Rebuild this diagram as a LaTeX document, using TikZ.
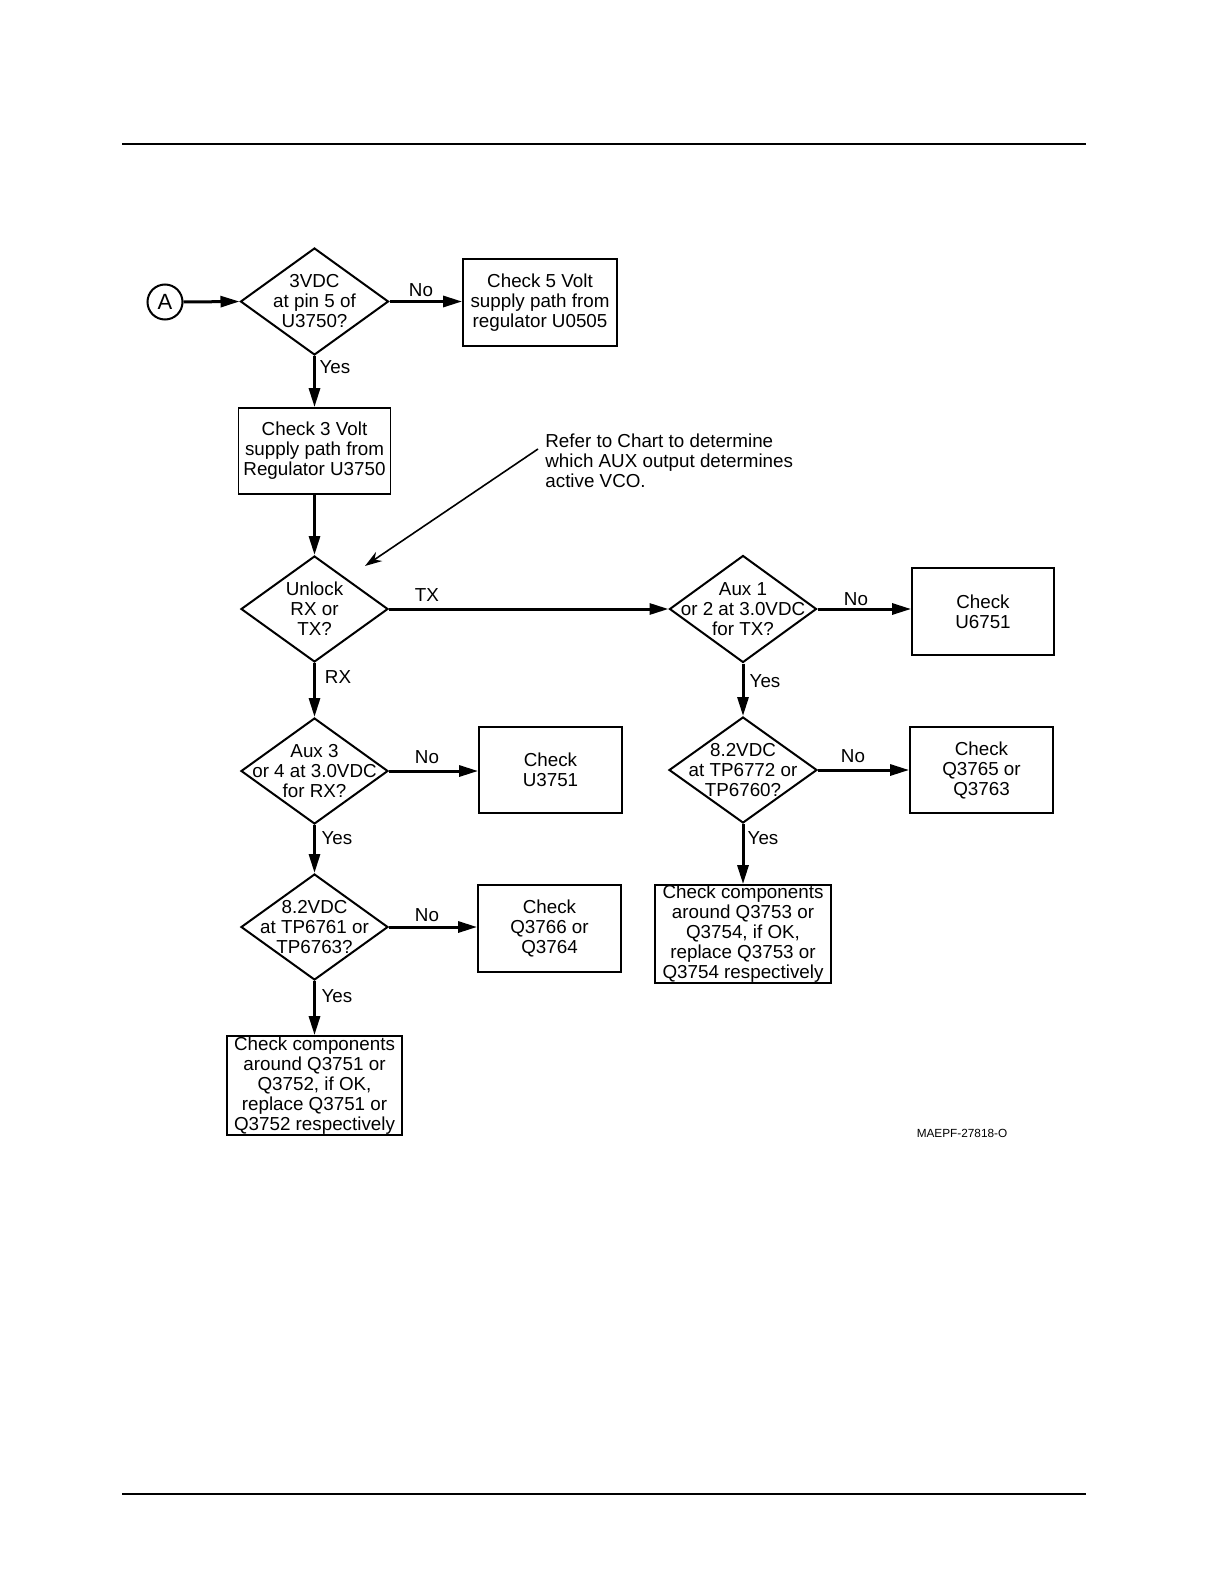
\documentclass[tikz,border=0pt]{standalone}
\usepackage{fontspec}
\setmainfont{Liberation Sans}
\usetikzlibrary{shapes.geometric,arrows.meta}
\begin{document}
\begin{tikzpicture}[x=0.5pt,y=-0.5pt,
  every node/.style={font=\fontsize{9.4pt}{10pt}\selectfont},
  dia/.style={draw,diamond,line width=1pt,inner sep=0pt,minimum width=73.5pt,minimum height=53.5pt},
  dtxt/.style={align=center,inner sep=0pt},
  box/.style={draw,rectangle,line width=0.9pt,align=center,inner sep=0pt,minimum width=71.5pt,minimum height=43.5pt},
  lab/.style={inner sep=0pt},
  arr/.style={line width=1.5pt,-{Triangle[length=9.5pt,width=5.5pt]}},
  narr/.style={line width=0.8pt,-{Stealth[length=8.5pt,width=5.5pt]}},
  rule/.style={line width=1pt}]
\useasboundingbox (0,0) rectangle (1224,1584);
% page rules
\coordinate (r1a) at (122,143.7);
\coordinate (r1b) at (1086,143.7);
\coordinate (r2a) at (122,1493.7);
\coordinate (r2b) at (1086,1493.7);
\draw[rule] (r1a) -- (r1b);
\draw[rule] (r2a) -- (r2b);
% nodes
\node[draw,circle,line width=1pt,minimum size=17.5pt,inner sep=0pt,font=\fontsize{11pt}{12pt}\selectfont] (A) at (165,302) {A};
\node[dia,minimum width=74pt] (d1) at (314.5,301.5) {};
\node[dtxt] (d1t) at (d1) {3VDC\\at pin 5 of\\U3750?};
\node[box,minimum width=77pt] (b1) at (540,302.5) {Check 5 Volt\\supply path from\\regulator U0505};
\node[box,minimum width=76pt,minimum height=43pt] (b2) at (314.5,451) {Check 3 Volt\\supply path from\\Regulator U3750};
\node[dia,minimum height=53pt] (d2) at (314.5,609) {};
\node[dtxt] (d2t) at (d2) {Unlock\\RX or\\TX?};
\node[dia] (d3) at (743,609) {};
\node[dtxt] (d3t) at (d3) {Aux 1\\or 2 at 3.0VDC\\for TX?};
\node[box,minimum width=71pt] (b3) at (983,611.5) {Check\\U6751};
\node[dia,minimum height=53pt] (d4) at (314.5,771) {};
\node[dtxt] (d4t) at (d4) {Aux 3\\or 4 at 3.0VDC\\for RX?};
\node[box,minimum height=43pt] (b4) at (550.5,770) {Check\\U3751};
\node[dia,minimum width=74pt,minimum height=53pt] (d5) at (743,770) {};
\node[dtxt] (d5t) at (d5) {8.2VDC\\at TP6772 or\\TP6760?};
\node[box,minimum height=43pt] (b5) at (981.5,770) {Check\\Q3765 or\\Q3763};
\node[box,minimum width=88pt,minimum height=49pt] (b6) at (743,934) {Check components\\around Q3753 or\\Q3754, if OK,\\replace Q3753 or\\Q3754 respectively};
\node[dia,minimum height=53pt] (d6) at (314.5,927) {};
\node[dtxt] (d6t) at (d6) {8.2VDC\\at TP6761 or\\TP6763?};
\node[box] (b7) at (549.5,928.5) {Check\\Q3766 or\\Q3764};
\node[box,minimum width=87.5pt,minimum height=49.5pt] (b8) at (314.5,1085.5) {Check components\\around Q3751 or\\Q3752, if OK,\\replace Q3751 or\\Q3752 respectively};
% note
\node[align=left,anchor=west,inner sep=0pt] (note) at (545,461) {Refer to Chart to determine\\which AUX output determines\\active VCO.};
\coordinate (nstart) at (538,449);
\coordinate (ntip) at (365,566);
\draw[narr] (nstart) -- (ntip);
% connectors
\draw[arr] (A.east) -- (d1.west);
\draw[arr] (d1.east) -- (d1.east -| b1.west);
\draw[arr] (d1.south) -- (b2.north);
\draw[arr] (b2.south) -- (d2.north);
\draw[arr] (d2.east) -- (d3.west);
\draw[arr] (d3.east) -- (d3.east -| b3.west);
\draw[arr] (d3.south) -- (d5.north);
\draw[arr] (d5.east) -- (d5.east -| b5.west);
\draw[arr] (d5.south) -- (b6.north);
\draw[arr] (d2.south) -- (d4.north);
\draw[arr] (d4.east) -- (d4.east -| b4.west);
\draw[arr] (d4.south) -- (d6.north);
\draw[arr] (d6.east) -- (d6.east -| b7.west);
\draw[arr] (d6.south) -- (b8.north);
% labels
\node[lab] (l1) at (421,290) {No};
\node[lab] (l2) at (335,367) {Yes};
\node[lab] (l3) at (427,595) {TX};
\node[lab] (l4) at (338,677) {RX};
\node[lab] (l5) at (856,599) {No};
\node[lab] (l6) at (765,681) {Yes};
\node[lab] (l7) at (427,757) {No};
\node[lab] (l8) at (853,756) {No};
\node[lab] (l9) at (337,838) {Yes};
\node[lab] (l10) at (763,838) {Yes};
\node[lab] (l11) at (427,915) {No};
\node[lab] (l12) at (337,996) {Yes};
\node[inner sep=0pt,font=\fontsize{5.9pt}{7pt}\selectfont] (code) at (962,1133) {MAEPF-27818-O};
\end{tikzpicture}
\end{document}
